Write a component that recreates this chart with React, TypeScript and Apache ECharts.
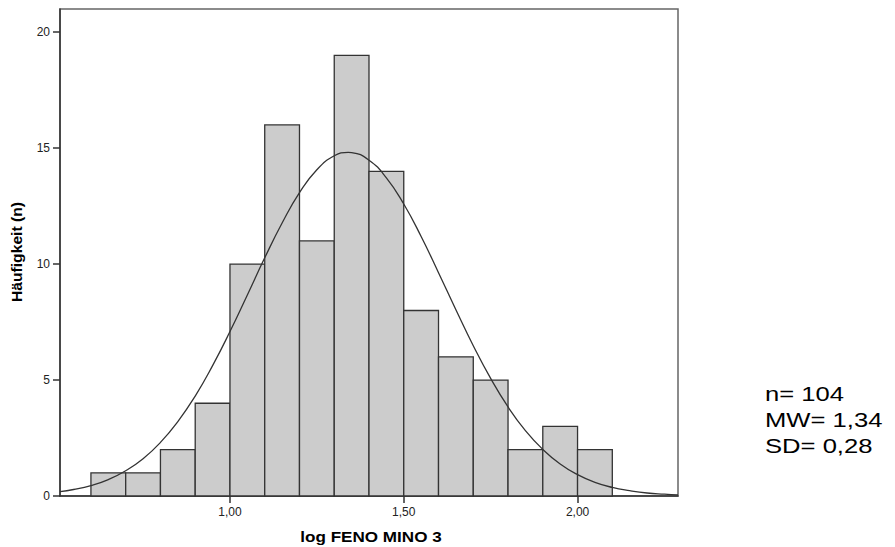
import React, { useEffect, useRef } from "react";
import * as echarts from "echarts";

// Histogram bins (lower edge, width 0.1) and counts
const binStarts = [0.6, 0.7, 0.8, 0.9, 1.0, 1.1, 1.2, 1.3, 1.4, 1.5, 1.6, 1.7, 1.8, 1.9, 2.0];
const binWidth = 0.1;
const counts = [1, 1, 2, 4, 10, 16, 11, 19, 14, 8, 6, 5, 2, 3, 2];

// Normal curve (x, frequency)
const curveX = [0.511, 0.55, 0.6, 0.65, 0.7, 0.75, 0.8, 0.85, 0.9, 0.95, 1.0, 1.05, 1.1, 1.15, 1.2, 1.25, 1.3, 1.34, 1.35, 1.4, 1.45, 1.5, 1.55, 1.6, 1.65, 1.7, 1.75, 1.8, 1.85, 1.9, 1.95, 2.0, 2.05, 2.1, 2.15, 2.2, 2.25, 2.289];
const curveY = [0.19, 0.28, 0.45, 0.71, 1.09, 1.61, 2.31, 3.21, 4.31, 5.62, 7.09, 8.67, 10.27, 11.77, 13.08, 14.07, 14.67, 14.82, 14.81, 14.48, 13.72, 12.59, 11.19, 9.63, 8.03, 6.48, 5.07, 3.84, 2.82, 2.01, 1.38, 0.92, 0.59, 0.37, 0.23, 0.13, 0.08, 0.05];

const xTickValues = [1.0, 1.5, 2.0];
const yTickValues = [0, 5, 10, 15, 20];
const xTitle = "log FENO MINO 3";
const yTitle = "Häufigkeit (n)";
const statsLines = ["n= 104", "MW= 1,34", "SD= 0,28"];

const FONT = "'Liberation Sans', Arial, sans-serif";

export default function App() {
  const ref = useRef<HTMLDivElement>(null);
  useEffect(() => {
    if (!ref.current) return;
    const chart = echarts.init(ref.current, null, { renderer: "svg" });
    const barData = binStarts.map((s, i) => [s, s + binWidth, counts[i]]);
    const lineData = curveX.map((x, i) => [x, curveY[i]]);
    chart.setOption({
      animation: false,
      backgroundColor: "#ffffff",
      grid: {
        left: 60,
        top: 9,
        right: 217,
        bottom: 51,
        show: true,
        borderColor: "#666666",
        borderWidth: 1.5,
        backgroundColor: "transparent",
      },
      xAxis: {
        type: "value",
        min: 0.511,
        max: 2.289,
        splitLine: { show: false },
        axisLine: { show: true, lineStyle: { color: "#333333", width: 1.5 } },
        axisTick: {
          show: true,
          length: 7,
          customValues: xTickValues,
          lineStyle: { color: "#333333", width: 1.5 },
        },
        axisLabel: {
          customValues: xTickValues,
          formatter: (v: number) => v.toFixed(2).replace(".", ","),
          color: "#222222",
          fontSize: 12,
          fontFamily: FONT,
          margin: 10,
        },
      },
      yAxis: {
        type: "value",
        min: 0,
        max: 21,
        splitLine: { show: false },
        axisLine: { show: true, lineStyle: { color: "#333333", width: 1.5 } },
        axisTick: {
          show: true,
          length: 7,
          customValues: yTickValues,
          lineStyle: { color: "#333333", width: 1.5 },
        },
        axisLabel: {
          customValues: yTickValues,
          color: "#222222",
          fontSize: 12,
          fontFamily: FONT,
          margin: 10,
        },
      },
      series: [
        {
          type: "custom",
          data: barData,
          encode: { x: [0, 1], y: 2 },
          renderItem: (params: any, api: any) => {
            const p0 = api.coord([api.value(0), 0]);
            const p1 = api.coord([api.value(1), api.value(2)]);
            return {
              type: "rect",
              shape: { x: p0[0], y: p1[1], width: p1[0] - p0[0], height: p0[1] - p1[1] },
              style: { fill: "#cccccc", stroke: "#333333", lineWidth: 1.3 },
            };
          },
          z: 2,
        },
        {
          type: "line",
          data: lineData,
          smooth: true,
          showSymbol: false,
          symbol: "none",
          lineStyle: { color: "#333333", width: 1.3 },
          z: 3,
        },
      ],
      graphic: [
        {
          type: "text",
          x: 17,
          y: 252,
          rotation: Math.PI / 2,
          scaleX: 1.12,
          style: {
            text: yTitle,
            fontSize: 14,
            fontWeight: "bold",
            fontFamily: FONT,
            fill: "#000000",
            align: "center",
            verticalAlign: "middle",
          },
        },
        {
          type: "text",
          x: 371,
          y: 537,
          scaleX: 1.22,
          style: {
            text: xTitle,
            fontSize: 14,
            fontWeight: "bold",
            fontFamily: FONT,
            fill: "#000000",
            align: "center",
            verticalAlign: "middle",
          },
        },
        {
          type: "text",
          x: 765,
          y: 420,
          scaleX: 1.22,
          style: {
            text: statsLines.join("\n"),
            fontSize: 21,
            lineHeight: 26,
            fontFamily: FONT,
            fill: "#000000",
            align: "left",
            verticalAlign: "middle",
          },
        },
      ],
    });
    return () => chart.dispose();
  }, []);
  return <div ref={ref} style={{ width: 895, height: 547, position: "absolute", left: 0, top: 0 }} />;
}
